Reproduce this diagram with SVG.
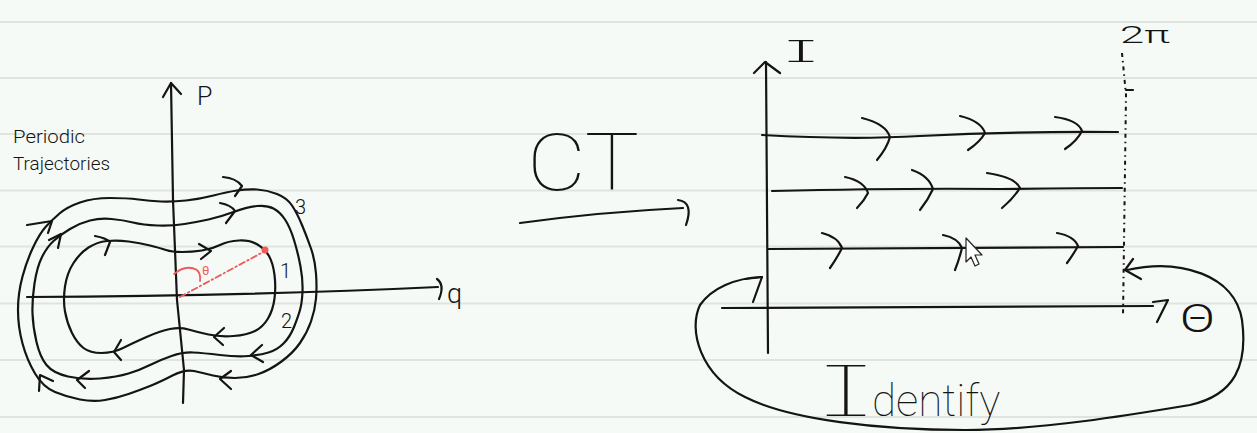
<svg xmlns="http://www.w3.org/2000/svg" width="1257" height="433" viewBox="0 0 1257 433">
<style>
.ink{fill:none;stroke:#141414;stroke-width:2.2;stroke-linecap:round;stroke-linejoin:round}
.red{fill:none;stroke:#ef5a5a;stroke-width:1.8;stroke-linecap:round}
.rule{stroke:#dfe4df;stroke-width:2}
.hw{font-family:Roboto,Inter,"Liberation Sans",sans-serif;font-weight:100;fill:#141414}
.hw3{font-family:Roboto,Inter,"Liberation Sans",sans-serif;font-weight:300;fill:#141414}
.serifI{font-family:Inter,"Liberation Sans",sans-serif;font-weight:200;font-feature-settings:"cv08" 1;fill:#141414}
.serifI1{font-family:Inter,"Liberation Sans",sans-serif;font-weight:100;font-feature-settings:"cv08" 1;fill:#141414}
</style>
<rect width="1257" height="433" fill="#f6faf6"/>
<g id="rules">
<line class="rule" x1="0" y1="22" x2="1257" y2="22"/>
<line class="rule" x1="0" y1="78" x2="1257" y2="78"/>
<line class="rule" x1="0" y1="134" x2="1257" y2="134"/>
<line class="rule" x1="0" y1="190.5" x2="1257" y2="190.5"/>
<line class="rule" x1="0" y1="246.5" x2="1257" y2="246.5"/>
<line class="rule" x1="0" y1="303.5" x2="1257" y2="303.5"/>
<line class="rule" x1="0" y1="360" x2="1257" y2="360"/>
<line class="rule" x1="0" y1="417" x2="1257" y2="417"/>
</g>

<g id="phase-axes">
<path class="ink" d="M171,83 L173,200 L177,300 L184,370 L183,403"/>
<path class="ink" d="M163,97 L171,83 L181,94"/>
<path class="ink" d="M27,297 Q250,296 438,287"/>
<path class="ink" d="M437,279 Q445,285 439,299"/>
<text class="hw3" x="197" y="105" font-size="25">P</text>
<text class="hw3" x="447" y="303" font-size="27">q</text>
</g>

<g id="label-periodic">
<text class="hw3" x="13" y="143" font-size="19" textLength="72" lengthAdjust="spacingAndGlyphs">Periodic</text>
<text class="hw3" x="13" y="170" font-size="18" textLength="97" lengthAdjust="spacingAndGlyphs">Trajectories</text>
</g>

<g id="trajectory-3">
<path class="ink" d="M33.5,246.5 Q40,233 46,226.5 Q52,220 59.5,213.5 Q67,207 80,202.5 Q93,198 110,198 Q127,198 138.5,199.5 Q150,201 161,201.5 Q172,202 186,200.5 Q200,199 213.5,195.5 Q227,192 237,190.5 Q247,189 257,189.5 Q267,190 277,194 Q287,198 292,205.5 Q297,213 302,225 Q307,237 311,248.5 Q315,260 316,273.5 Q317,287 316,298.5 Q315,310 311,321.5 Q307,333 300,343 Q293,353 281.5,361.5 Q270,370 258.5,374 Q247,378 235,378 Q223,378 213,375.5 Q203,373 194,371 Q185,369 172.5,375.5 Q160,382 150,386 Q140,390 128.5,394 Q117,398 105,400 Q93,402 80,399.5 Q67,397 55,392 Q43,387 35,373.5 Q27,360 22.5,343.5 Q18,327 18,310 Q18,293 22.5,276.5 Q27,260 33.5,246.5 Z"/>
<path class="ink" d="M27,225 L52,221 L48,233"/>
<path class="ink" d="M223,177 Q236,178 242,186 L235,196"/>
<path class="ink" d="M231,371 L220,379 L231,389"/>
<path class="ink" d="M39,391 L40,375 L53,381"/>
<text class="hw3" x="295" y="214" font-size="20">3</text>
</g>

<g id="trajectory-2">
<path class="ink" d="M42,257 Q47,247 53.5,241 Q60,235 70,229 Q80,223 90,220.5 Q100,218 111.5,219 Q123,220 133,222.5 Q143,225 157.5,225.5 Q172,226 184.5,224 Q197,222 208.5,219.5 Q220,217 233.5,212 Q247,207 257,206 Q267,205 273.5,208.5 Q280,212 285,219.5 Q290,227 294,240 Q298,253 300.5,266.5 Q303,280 302.5,291.5 Q302,303 300,310 Q298,317 294,327 Q290,337 283.5,343.5 Q277,350 268.5,352.5 Q260,355 248.5,356 Q237,357 220,355 Q203,353 193,352.5 Q183,352 171.5,356 Q160,360 150,365 Q140,370 128.5,373.5 Q117,377 100,378.5 Q83,380 68,376.5 Q53,373 46.5,365 Q40,357 36.5,342 Q33,327 32.5,313.5 Q32,300 34.5,283.5 Q37,267 42,257 Z"/>
<path class="ink" d="M220,203 Q231,205 235,211 L226,223"/>
<path class="ink" d="M262,345 L251,355 L263,362"/>
<path class="ink" d="M89,371 L77,380 L85,388"/>
<path class="ink" d="M49,240 L61,234 L58,248"/>
<text class="hw3" x="281" y="328" font-size="20">2</text>
</g>

<g id="trajectory-1">
<path class="ink" d="M166,250 Q172,252 182,252 Q192,252 202,250.5 Q212,249 220,245 Q228,241 239,240.5 Q250,240 257.5,244.5 Q265,249 269,256 Q273,263 274.5,275 Q276,287 274.5,298.5 Q273,310 268,318.5 Q263,327 255,331 Q247,335 233.5,336 Q220,337 208.5,334.5 Q197,332 188.5,329.5 Q180,327 170,329 Q160,331 146.5,337 Q133,343 123,348 Q113,353 101.5,353 Q90,353 83.5,348 Q77,343 72,333 Q67,323 65,311.5 Q63,300 65,286.5 Q67,273 73.5,263 Q80,253 88.5,247.5 Q97,242 107,241 Q117,240 128.5,241.5 Q140,243 150,245.5 Q160,248 166,250 Z"/>
<path class="ink" d="M199,244 L211,251 L201,259" stroke-width="3.2"/>
<path class="ink" d="M224,328 L214,337 L223,345"/>
<path class="ink" d="M121,340 L114,352 L121,360"/>
<path class="ink" d="M95,236 Q106,238 110,242 L105,255"/>
<text class="hw3" x="280" y="278" font-size="20">1</text>
</g>

<g id="angle">
<path class="red" d="M180,297 L265,251" stroke-dasharray="6 3 1.5 3" stroke-linecap="butt"/>
<circle cx="265" cy="250" r="3.5" fill="#ef5a5a"/>
<path class="red" d="M174,274 Q186,264 197,270 Q201,274 200,281"/>
<text x="202" y="275" font-size="13" font-family="Roboto,'Liberation Sans',sans-serif" fill="#ef5a5a">θ</text>
</g>

<g id="ct">
<text class="hw" x="527" y="190" font-size="80" textLength="112" lengthAdjust="spacingAndGlyphs">CT</text>
<path class="ink" d="M520,223 Q600,212 683,208"/>
<path class="ink" d="M678,200 Q694,202 686,225"/>
</g>

<g id="action-angle-axes">
<path class="ink" d="M768,353 L766,62"/>
<path class="ink" d="M754,73 L765,62 L780,73"/>
<text class="serifI" x="784" y="62" font-size="30" textLength="34" lengthAdjust="spacingAndGlyphs">I</text>
<path class="ink" d="M722,308 Q950,306 1153,306"/>
<path class="ink" d="M1153,302 L1168,300 L1157,322"/>
<text class="hw3" x="1180" y="332" font-size="38" textLength="35" lengthAdjust="spacingAndGlyphs">Θ</text>
<path d="M1122,53 L1126,95 L1123,317" fill="none" stroke="#141414" stroke-width="2" stroke-dasharray="4 4 1.5 4"/>
<path class="ink" d="M1126,90 L1133,90" stroke-width="1.6"/>
<text class="hw3" x="1120" y="43" font-size="24" textLength="50" lengthAdjust="spacingAndGlyphs">2π</text>
</g>

<g id="orbit-1">
<path class="ink" d="M762,135 Q850,140 920,136 Q1020,131 1118,132"/>
<path class="ink" d="M862,118 Q886,124 890,137 Q887,148 877,160"/>
<path class="ink" d="M960,116 Q981,121 985,133 Q980,142 968,150"/>
<path class="ink" d="M1055,117 Q1078,120 1082,131 Q1077,141 1065,149"/>
</g>
<g id="orbit-2">
<path class="ink" d="M772,191 Q900,188 1000,189 Q1080,188 1122,188"/>
<path class="ink" d="M845,177 Q864,181 868,193 Q864,201 857,208"/>
<path class="ink" d="M912,170 Q929,176 933,189 Q928,200 920,210"/>
<path class="ink" d="M987,173 Q1015,177 1020,188 Q1013,199 1002,208"/>
</g>
<g id="orbit-3">
<path class="ink" d="M768,249 L1123,247"/>
<path class="ink" d="M822,233 Q838,237 842,248 Q837,258 830,268"/>
<path class="ink" d="M943,235 Q958,238 962,248 Q959,260 955,270"/>
<path class="ink" d="M1057,233 Q1074,236 1078,246 Q1073,255 1067,263"/>
</g>

<g id="cursor">
<path d="M966,238 L966,262 L971,257 L975,266 L979,264 L975,255 L982,255 Z" fill="#ffffff" stroke="#222" stroke-width="1.2" stroke-linejoin="round"/>
</g>

<g id="identify">
<path class="ink" d="M1127,270 C1180,258 1235,275 1242,320 C1248,365 1235,395 1190,405 C1130,415 1040,430 965,430 C880,430 790,420 745,397 C700,375 688,330 700,305 C712,288 735,278 762,277"/>
<path class="ink" d="M1133,259 L1125,270 L1141,279"/>
<path class="ink" d="M745,279 L762,277 L753,302"/>
<text x="818" y="416"><tspan class="serifI1" font-size="70" textLength="56" lengthAdjust="spacingAndGlyphs">I</tspan><tspan class="hw" x="872" font-size="44">dentify</tspan></text>
</g>
</svg>
